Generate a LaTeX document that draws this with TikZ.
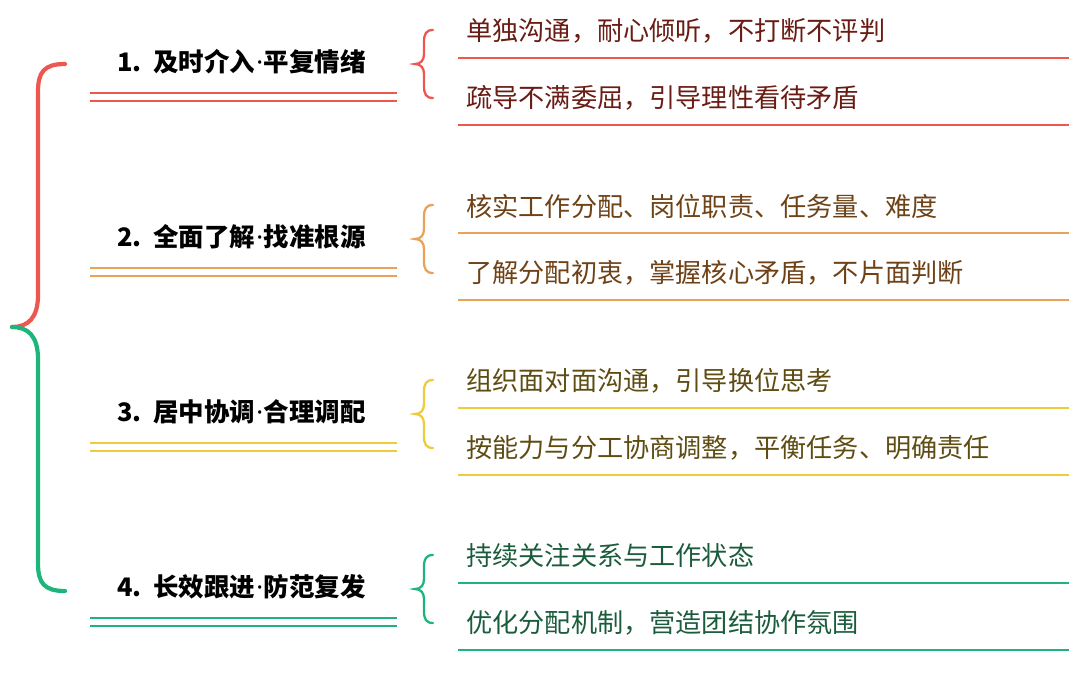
\documentclass[tikz,border=0pt]{standalone}
\usepackage{fontspec}
\setmainfont{Noto Sans CJK SC}
\newfontfamily\latinfont{Noto Sans}
\usepackage{xcolor}
\definecolor{redline}{HTML}{EE5650}
\definecolor{redtext}{HTML}{6A1C14}
\definecolor{orangeline}{HTML}{EBA158}
\definecolor{orangetext}{HTML}{6E4216}
\definecolor{yellowline}{HTML}{EDCC3C}
\definecolor{yellowtext}{HTML}{5E4C12}
\definecolor{greenline}{HTML}{1DB57C}
\definecolor{greentext}{HTML}{1B5C3C}
\usetikzlibrary{positioning}
\newcommand{\middot}{{\latinfont\bfseries\kern0.5pt·\kern0.5pt}}

\begin{document}
\begin{tikzpicture}[x=0.02cm, y=-0.02cm,
		headtext/.style={font=\fontsize{14.5}{16}\selectfont\bfseries, text=black, inner sep=0pt, anchor=west},
		subtext/.style={font=\fontsize{14.9}{16}\selectfont, inner sep=0pt, anchor=west},
		dblline/.style={line width=1.7pt},
		underline/.style={line width=1.5pt},
		bracestyle/.style={line width=1.3pt, line cap=round}]

		\useasboundingbox (0,0) rectangle (1080,687);

		% ================= Main bracket on the left =================
		\coordinate (top) at (65,64);
		\coordinate (tip) at (12,327);
		\coordinate (bot) at (65,591);
		\draw[redline, line width=2.4pt, line cap=round]
			(top) .. controls (44,64) and (38,72) .. (38,92) -- (38,295)
			.. controls (38,318) and (28,327) .. (tip);
		\draw[greenline, line width=2.4pt, line cap=round]
			(tip) .. controls (28,327) and (38,336) .. (38,359) -- (38,563)
			.. controls (38,583) and (44,591) .. (bot);

		% ================= Four branches =================
		\foreach \i/\lc/\tc/\head/\subA/\subB in {
			1/redline/redtext/{及时介入\middot 平复情绪}/{单独沟通，耐心倾听，不打断不评判}/{疏导不满委屈，引导理性看待矛盾},
			2/orangeline/orangetext/{全面了解\middot 找准根源}/{核实工作分配、岗位职责、任务量、难度}/{了解分配初衷，掌握核心矛盾，不片面判断},
			3/yellowline/yellowtext/{居中协调\middot 合理调配}/{组织面对面沟通，引导换位思考}/{按能力与分工协商调整，平衡任务、明确责任},
			4/greenline/greentext/{长效跟进\middot 防范复发}/{持续关注关系与工作状态}/{优化分配机制，营造团结协作氛围}}{
			\pgfmathsetmacro{\yy}{62+175*(\i-1)}

			% heading with double underline
			\node[headtext] (head\i) at (117,\yy) {\i.\ \ \head};
			\draw[\lc, dblline] (90,\yy+31) -- (397,\yy+31);
			\draw[\lc, dblline] (90,\yy+39) -- (397,\yy+39);

			% small curly brace
			\draw[\lc, bracestyle] (433,\yy-32) .. controls (426,\yy-32) and (424,\yy-28) .. (424,\yy-20)
				-- (424,\yy-8) .. controls (424,\yy-2) and (421,\yy+2) .. (415,\yy+2)
				.. controls (421,\yy+2) and (424,\yy+6) .. (424,\yy+12)
				-- (424,\yy+24) .. controls (424,\yy+32) and (426,\yy+36) .. (433,\yy+36);

			% sub items with underlines
			\node[subtext, text=\tc] (subA\i) at (466,\yy-31) {\subA};
			\draw[\lc, underline] (458,\yy-4) -- (1069,\yy-4);
			\node[subtext, text=\tc] (subB\i) at (466,\yy+36) {\subB};
			\draw[\lc, underline] (458,\yy+63) -- (1069,\yy+63);
		}

	\end{tikzpicture}
\end{document}
